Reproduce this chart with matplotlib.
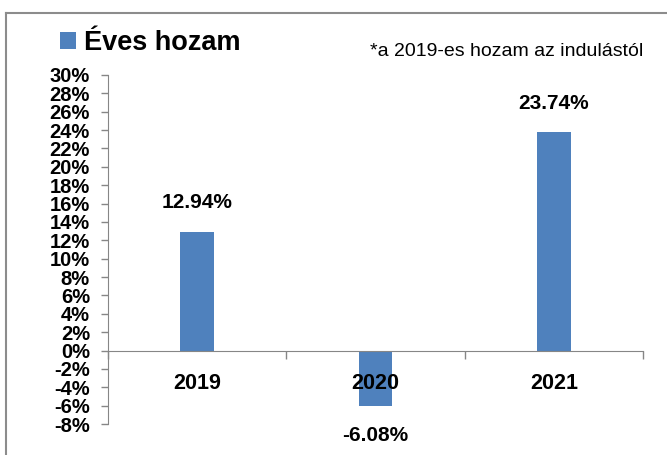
import matplotlib
matplotlib.use("Agg")
import matplotlib.pyplot as plt
from matplotlib.lines import Line2D
from matplotlib.ticker import FixedLocator, FuncFormatter

years = ["2019", "2020", "2021"]
returns = [12.94, -6.08, 23.74]
value_labels = ["12.94%", "-6.08%", "23.74%"]
series_name = "Éves hozam"
note = "*a 2019-es hozam az indulástól"
yticks = list(range(-8, 31, 2))

plt.rcParams['font.family'] = ['Liberation Sans', 'DejaVu Sans']

fig = plt.figure(figsize=(6.67, 4.55), dpi=100)
ax = fig.add_axes([108/667, 1-424/455, (643-108)/667, (424-75)/455])

x = list(range(len(years)))
color = "#4F81BD"
bars = ax.bar(x, returns, width=0.19, color=color, label=series_name, zorder=1)
ax.set_axisbelow(False)

ax.set_xlim(-0.5, 2.5)
ax.set_ylim(-8, 30)
ax.yaxis.set_major_locator(FixedLocator(yticks))
ax.yaxis.set_major_formatter(FuncFormatter(lambda v, p: f"{int(round(v))}%"))
for t in ax.get_yticklabels():
    t.set_fontweight('bold')
ax.tick_params(axis='y', labelsize=14.5, length=5, width=1, color='#868686', pad=8, direction='out')

for s in ['top', 'right']:
    ax.spines[s].set_visible(False)
ax.spines['left'].set_color('#868686')
ax.spines['bottom'].set_color('#868686')
ax.spines['bottom'].set_position(('data', 0))

ax.set_xticks(x)
ax.set_xticklabels(years, fontsize=15.5, fontweight='bold')
ax.tick_params(axis='x', which='major', length=0, pad=16)
ax.set_xticks([-0.5, 0.5, 1.5, 2.5], minor=True)
ax.tick_params(axis='x', which='minor', length=6, width=1, color='#868686', direction='out')

for xi, v, lab in zip(x, returns, value_labels):
    if v >= 0:
        ax.annotate(lab, (xi, v), xytext=(0, 14), textcoords='offset points',
                    ha='center', va='bottom', fontsize=15, fontweight='bold')
    else:
        ax.annotate(lab, (xi, v), xytext=(0, -14), textcoords='offset points',
                    ha='center', va='top', fontsize=15, fontweight='bold')

fig.legend(handles=[bars], labels=[series_name], loc='center left',
           bbox_to_anchor=(60/667, 1-43/455), frameon=False,
           prop={'size': 19.5, 'weight': 'bold'}, handlelength=0.6, handleheight=0.6,
           handletextpad=0.3, borderpad=0, borderaxespad=0)

fig.text(370/667, 1-52/455, note, fontsize=14, ha='left', va='center')

frame_color = '#8c8c8c'
fig.add_artist(Line2D([6/667, 6/667], [0, 1-13/455], color=frame_color, lw=1.5,
                      transform=fig.transFigure))
fig.add_artist(Line2D([6/667, 1], [1-13/455, 1-13/455], color=frame_color, lw=1.5,
                      transform=fig.transFigure))

fig.savefig("out.png", dpi=100)
